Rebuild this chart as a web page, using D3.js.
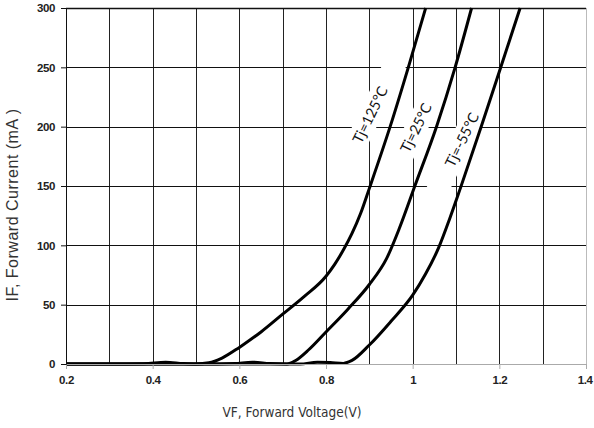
<!DOCTYPE html>
<html>
<head>
<meta charset="utf-8">
<script src="https://cdn.jsdelivr.net/npm/d3@7"></script>
<style>
  body { margin: 0; background: #fff; }
</style>
</head>
<body>
<svg id="chart"></svg>
<script>
// forward voltage (V) vs forward current (mA), one curve per junction temperature
let vf125 = [0.2, 0.3, 0.38, 0.43, 0.47, 0.5, 0.53, 0.56, 0.6, 0.65, 0.7, 0.75, 0.8, 0.82, 0.84, 0.86, 0.88, 0.9, 0.948, 0.99, 1.03];
let if125 = [0, 0, 0.3, 1.5, 0.4, 0, 1, 5, 14, 27, 42, 57, 74, 84, 96, 110, 127, 148, 200, 250, 300];

let vf25 = [0.2, 0.55, 0.59, 0.63, 0.67, 0.71, 0.73, 0.76, 0.8, 0.85, 0.9, 0.94, 0.97, 1.005, 1.055, 1.098, 1.136];
let if25 = [0, 0, 0.4, 1.5, 0.4, 0, 3, 12, 27, 46, 67, 89, 115, 150, 200, 250, 300];

let vfM55 = [0.2, 0.74, 0.78, 0.81, 0.84, 0.86, 0.9, 0.95, 1.0, 1.03, 1.06, 1.085, 1.11, 1.16, 1.205, 1.248];
let ifM55 = [0, 0, 1.5, 1.2, 0.5, 3, 16, 36, 58, 76, 98, 122, 148, 202, 252, 300];

let seriesNames = ["Tj=125°C", "Tj=25°C", "Tj=-55°C"];
// where each label sits, in chart units
let labelV = [0.902, 1.008, 1.114];
let labelI = [210, 199, 189];

let xTicks = [0.2, 0.4, 0.6, 0.8, 1, 1.2, 1.4];
let yTicks = [0, 50, 100, 150, 200, 250, 300];
let xGrid = [0.3, 0.4, 0.5, 0.6, 0.7, 0.8, 0.9, 1.0, 1.1, 1.2, 1.3, 1.4];

let w = 594, h = 428;

var x = d3.scaleLinear().domain([0.2, 1.4]).range([66, 586]);
var y = d3.scaleLinear().domain([0, 300]).range([364, 8]);

var svg = d3.select("#chart").attr("width", w).attr("height", h);

// grid
svg.append("g")
   .selectAll("line")
   .data(xGrid)
   .enter().append("line")
   .attr("x1", d => Math.round(x(d)) + 0.5)
   .attr("x2", d => Math.round(x(d)) + 0.5)
   .attr("y1", y(300))
   .attr("y2", y(0))
   .attr("stroke", (d, i) => i == xGrid.length - 1 ? "#bbb" : "#222")
   .attr("stroke-width", 1);

svg.append("g")
   .selectAll("line")
   .data(yTicks.slice(1))
   .enter().append("line")
   .attr("x1", x(0.2))
   .attr("x2", x(1.4))
   .attr("y1", d => Math.round(y(d)) + 0.5)
   .attr("y2", d => Math.round(y(d)) + 0.5)
   .attr("stroke", "#111")
   .attr("stroke-width", d => d == 300 ? 1.6 : 1);

// white boxes behind the labels cut the grid
let boxLen = [[-40, 62], [-40, 42], [-58, 36]];
var labels = svg.selectAll("g.lab")
   .data(seriesNames)
   .enter().append("g")
   .attr("class", "lab")
   .attr("transform", (d, i) => "translate(" + x(labelV[i]) + "," + y(labelI[i]) + ") rotate(-64)");

labels.append("rect")
   .attr("x", (d, i) => boxLen[i][0])
   .attr("width", (d, i) => boxLen[i][1] - boxLen[i][0])
   .attr("y", -11)
   .attr("height", 22)
   .attr("fill", "#fff");

// curves
var line = d3.line()
   .x(d => x(d[0]))
   .y(d => y(d[1]))
   .curve(d3.curveMonotoneX);

let curves = [
  d3.zip(vf125, if125),
  d3.zip(vf25, if25),
  d3.zip(vfM55, ifM55)
];

svg.append("g")
   .selectAll("path")
   .data(curves)
   .enter().append("path")
   .attr("d", line)
   .attr("fill", "none")
   .attr("stroke", "#000")
   .attr("stroke-width", 3)
   .attr("stroke-linejoin", "round");

labels.append("text")
   .attr("text-anchor", "middle")
   .attr("dy", "0.35em")
   .attr("font-family", "Lato, 'Open Sans', sans-serif")
   .attr("font-size", "14.5px")
   .attr("fill", "#111")
   .text(d => d);

// axes
let tickFont = "'Liberation Sans', Arial, sans-serif";

svg.append("g")
   .attr("transform", "translate(0," + y(0) + ")")
   .call(d3.axisBottom(x).tickValues(xTicks).tickSize(5).tickPadding(7).tickFormat(d => String(+d.toFixed(1))))
   .call(g => g.selectAll("line, path").attr("stroke", "#aaa"))
   .call(g => g.select(".domain").attr("d", "M" + x(0.2) + ",0.5H" + x(1.4)))
   .call(g => g.selectAll("text")
      .attr("font-family", tickFont)
      .attr("font-weight", "bold")
      .attr("font-size", "11.5px")
      .attr("letter-spacing", "-0.4px")
      .attr("fill", "#222"))
   .call(g => g.selectAll(".tick:last-of-type text").attr("text-anchor", "end").attr("x", 6));

svg.append("g")
   .attr("transform", "translate(" + x(0.2) + ",0)")
   .call(d3.axisLeft(y).tickValues(yTicks).tickSize(5).tickPadding(6))
   .call(g => g.selectAll("line, path").attr("stroke", "#111"))
   .call(g => g.selectAll("text")
      .attr("font-family", tickFont)
      .attr("font-weight", "bold")
      .attr("font-size", "11.5px")
      .attr("letter-spacing", "-0.4px")
      .attr("fill", "#222"));

// titles
svg.append("text")
   .attr("transform", "translate(18,205) rotate(-90)")
   .attr("text-anchor", "middle")
   .attr("font-family", "'Liberation Sans', Arial, sans-serif")
   .attr("font-size", "16px")
   .attr("letter-spacing", "0.5px")
   .attr("fill", "#333")
   .text("IF, Forward Current (mA )");

svg.append("text")
   .attr("x", 292)
   .attr("y", 417)
   .attr("text-anchor", "middle")
   .attr("font-family", "'Liberation Sans Narrow', 'DejaVu Sans Condensed', sans-serif")
   .attr("font-size", "13.5px")
   .attr("fill", "#333")
   .text("VF, Forward Voltage(V)");
</script>
</body>
</html>
